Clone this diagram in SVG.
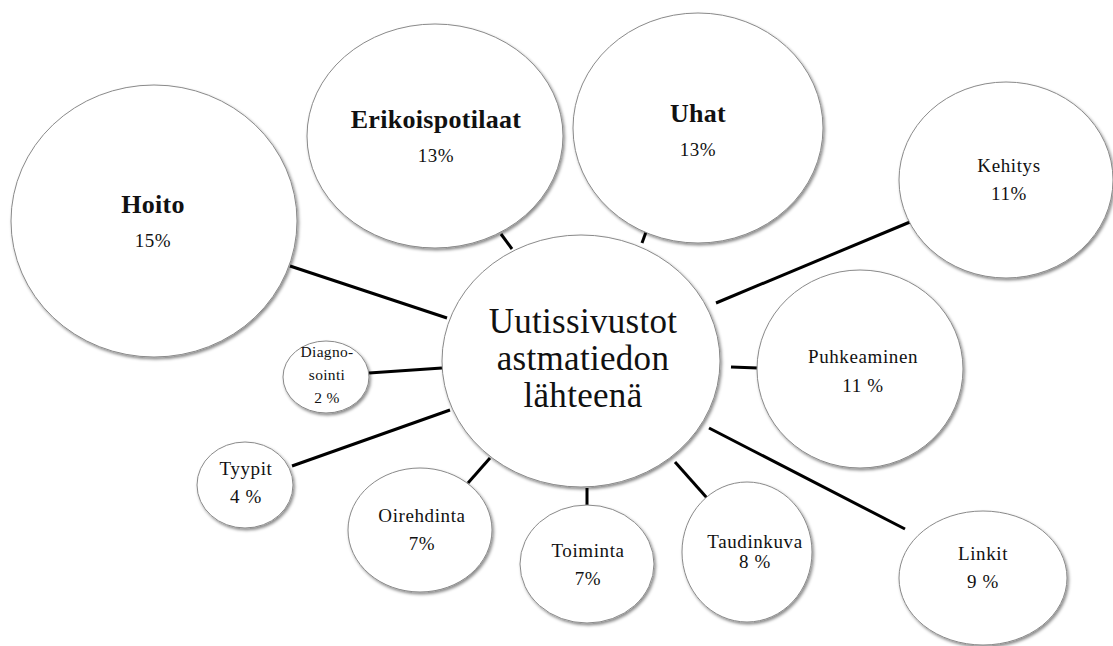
<svg xmlns="http://www.w3.org/2000/svg" width="1113" height="646" viewBox="0 0 1113 646">
<defs>
<filter id="sh" x="-10%" y="-10%" width="125%" height="125%">
<feDropShadow dx="1.5" dy="2" stdDeviation="1.5" flood-color="#000" flood-opacity="0.45"/>
</filter>
</defs>
<style>
.n ellipse{fill:#fff;stroke:#8a8a8a;stroke-width:1;filter:url(#sh)}
text{font-family:"Liberation Serif","Times New Roman",serif;fill:#111;text-anchor:middle}
.b{font-weight:bold;font-size:26px;letter-spacing:0.3px}
.t{font-size:19px;letter-spacing:0.6px}
.c{font-size:35px;letter-spacing:0.3px}
.s{font-size:15.5px;letter-spacing:0.3px}
#connectors line{stroke:#000;stroke-width:3;stroke-linecap:butt}
</style>
<rect width="1113" height="646" fill="#fff"/>
<g id="connectors">
<line x1="290" y1="266" x2="447" y2="318"/>
<line x1="501" y1="234" x2="512" y2="249"/>
<line x1="646" y1="232" x2="642" y2="243"/>
<line x1="716" y1="303" x2="910" y2="222"/>
<line x1="731" y1="367" x2="758" y2="368"/>
<line x1="709" y1="428" x2="905" y2="529"/>
<line x1="675" y1="462" x2="707" y2="498"/>
<line x1="587" y1="488" x2="587" y2="505"/>
<line x1="490" y1="458" x2="468" y2="483"/>
<line x1="292" y1="466" x2="450" y2="410"/>
<line x1="369" y1="373" x2="442" y2="368"/>
</g>
<g id="hoito" class="n"><ellipse cx="154" cy="221" rx="143" ry="136"/><text x="153" y="213" class="b">Hoito</text><text x="153" y="247" class="t">15%</text></g>
<g id="erikoispotilaat" class="n"><ellipse cx="435" cy="136" rx="128" ry="112"/><text x="436" y="128" class="b">Erikoispotilaat</text><text x="436" y="162" class="t">13%</text></g>
<g id="uhat" class="n"><ellipse cx="698" cy="128" rx="125" ry="115"/><text x="698" y="122" class="b">Uhat</text><text x="698" y="156" class="t">13%</text></g>
<g id="kehitys" class="n"><ellipse cx="1006" cy="180" rx="107" ry="98"/><text x="1009" y="172" class="t">Kehitys</text><text x="1009" y="200" class="t">11%</text></g>
<g id="puhkeaminen" class="n"><ellipse cx="860" cy="369" rx="103" ry="99"/><text x="863" y="363" class="t">Puhkeaminen</text><text x="863" y="392" class="t">11 %</text></g>
<g id="linkit" class="n"><ellipse cx="983" cy="578" rx="84" ry="67"/><text x="983" y="560" class="t">Linkit</text><text x="983" y="588" class="t">9 %</text></g>
<g id="taudinkuva" class="n"><ellipse cx="747" cy="552" rx="65" ry="70"/><text x="755" y="548" class="t">Taudinkuva</text><text x="755" y="568" class="t">8 %</text></g>
<g id="toiminta" class="n"><ellipse cx="587" cy="564" rx="67" ry="59"/><text x="588" y="557" class="t">Toiminta</text><text x="588" y="585" class="t">7%</text></g>
<g id="oirehdinta" class="n"><ellipse cx="420" cy="530" rx="72" ry="62"/><text x="422" y="522" class="t">Oirehdinta</text><text x="422" y="550" class="t">7%</text></g>
<g id="tyypit" class="n"><ellipse cx="245" cy="485" rx="48" ry="43"/><text x="246" y="475" class="t">Tyypit</text><text x="246" y="503" class="t">4 %</text></g>
<g id="diagnosointi" class="n"><ellipse cx="326" cy="377" rx="43" ry="36"/><text x="327" y="357" class="s">Diagno-</text><text x="327" y="380" class="s">sointi</text><text x="327" y="403" class="s">2 %</text></g>
<g id="center" class="n"><ellipse cx="581" cy="361" rx="139" ry="126"/><text x="583" y="333" class="c">Uutissivustot</text><text x="583" y="370" class="c">astmatiedon</text><text x="583" y="407" class="c">lähteenä</text></g>
</svg>
